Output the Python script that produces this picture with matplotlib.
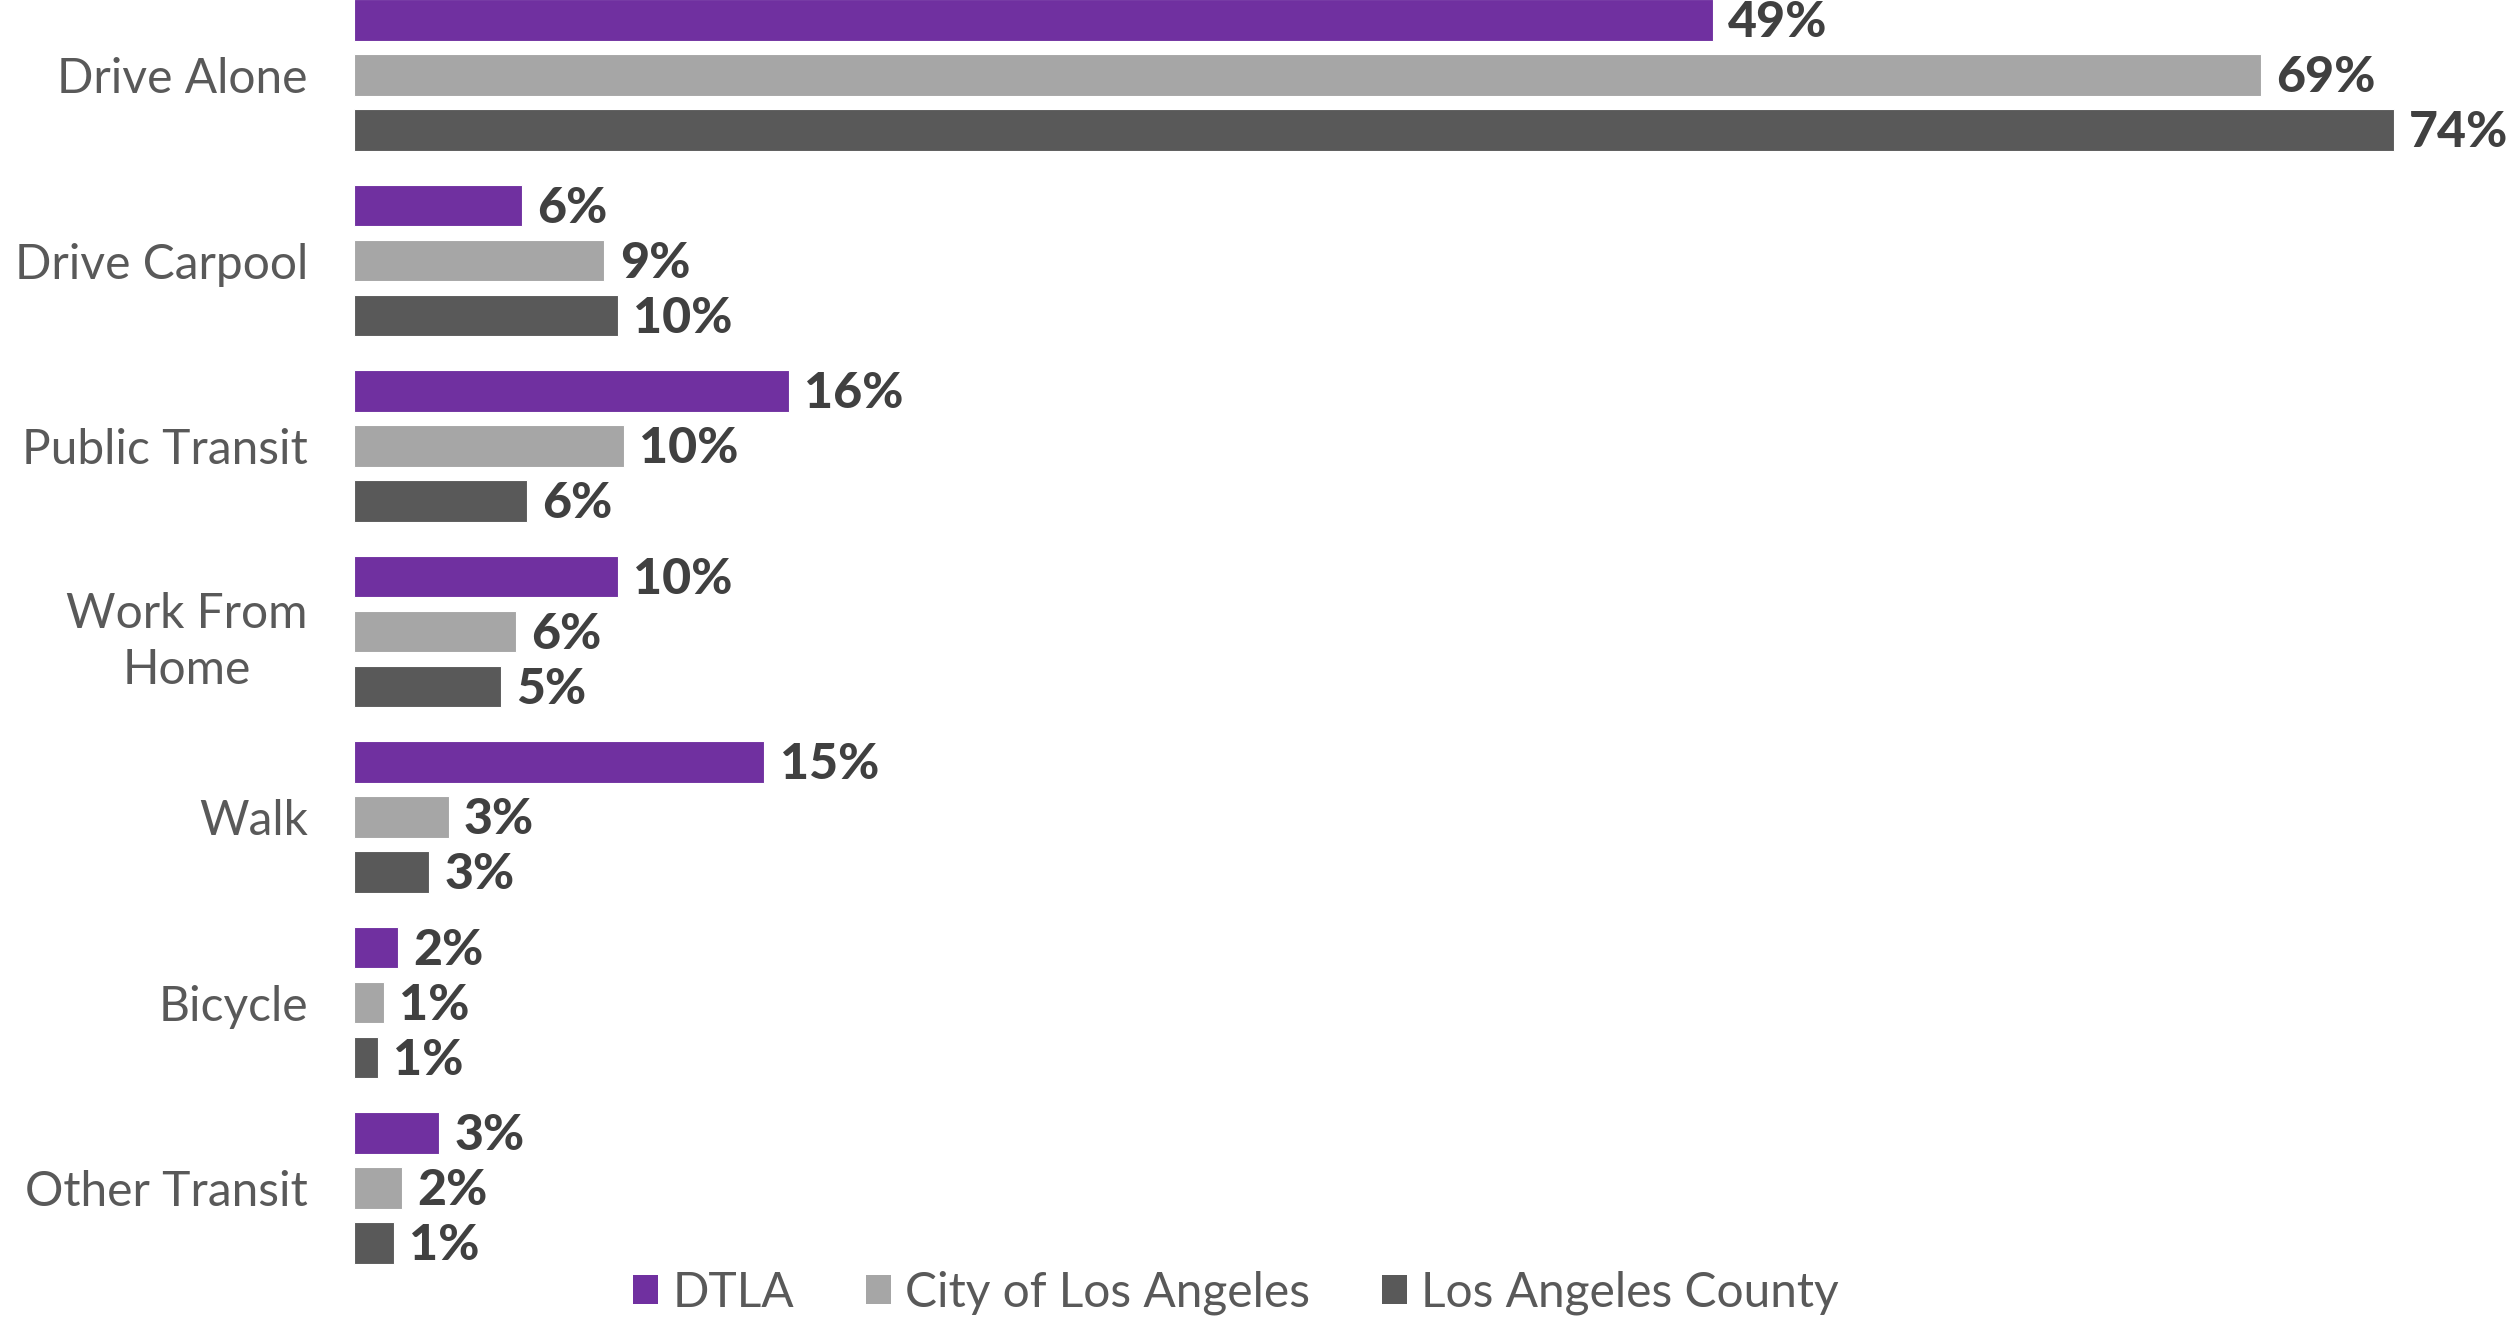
import matplotlib
matplotlib.use("Agg")
import matplotlib.pyplot as plt
from matplotlib.patches import Patch
import numpy as np

categories = ["Drive Alone", "Drive Carpool", "Public Transit", "Work From\nHome",
              "Walk", "Bicycle", "Other Transit"]
series_names = ["DTLA", "City of Los Angeles", "Los Angeles County"]
dtla = [49.3, 6.1, 15.8, 9.6, 14.9, 1.6, 3.1]
city = [69.2, 9.1, 9.8, 5.9, 3.45, 1.1, 1.75]
county = [74.0, 9.6, 6.3, 5.35, 2.75, 0.87, 1.45]
colors = ["#7030A0", "#A6A6A6", "#595959"]

W, H = 2515, 1319
fig = plt.figure(figsize=(W / 100, H / 100), dpi=100)
ax_left = 353.6 / W
ax = fig.add_axes([ax_left, 0, 1 - ax_left, 1])

fontfam = ["Lato", "DejaVu Sans"]
fs_cat = 34.5
fs_val = 36

y = np.arange(len(categories))
offset = 55 / 185.5
bh = 41.5 / 185.5
all_series = [dtla, city, county]
for k, (vals, col) in enumerate(zip(all_series, colors)):
    pos = y + (k - 1) * offset
    ax.barh(pos, vals, height=bh, color=col, edgecolor="white", linewidth=0.8)
    for p, v in zip(pos, vals):
        ax.text(v + 0.55, p + 0.015, f"{round(v):.0f}%", va="center", ha="left",
                fontsize=fs_val, fontweight="black", color="#404040", family=fontfam)

px_per_unit = 2040 / 74.0
ax.set_xlim(0, (W - 353.6) / px_per_unit)
top = -75.2 / 185.5
bottom = (H - 75.2) / 185.5
ax.set_ylim(bottom, top)

ax.set_yticks(y)
ax.set_yticklabels(categories, fontsize=fs_cat, color="#595959", family=fontfam,
                   fontweight="normal", multialignment="center", linespacing=1.35)
ax.tick_params(axis="y", length=0, pad=33)
ax.set_xticks([])
for s in ax.spines.values():
    s.set_visible(False)

handles = [Patch(facecolor=c, edgecolor="none") for c in colors]
leg = fig.legend(handles, series_names, loc="center", bbox_to_anchor=(1236 / W, 1 - 1293 / H),
                 ncol=3, frameon=False,
                 prop={"family": fontfam, "size": fs_cat, "weight": "normal"},
                 handlelength=0.52, handleheight=0.55, handletextpad=0.3,
                 columnspacing=1.5, borderpad=0, borderaxespad=0)
for t in leg.get_texts():
    t.set_color("#595959")

fig.savefig("out.png", dpi=100, facecolor="white")
